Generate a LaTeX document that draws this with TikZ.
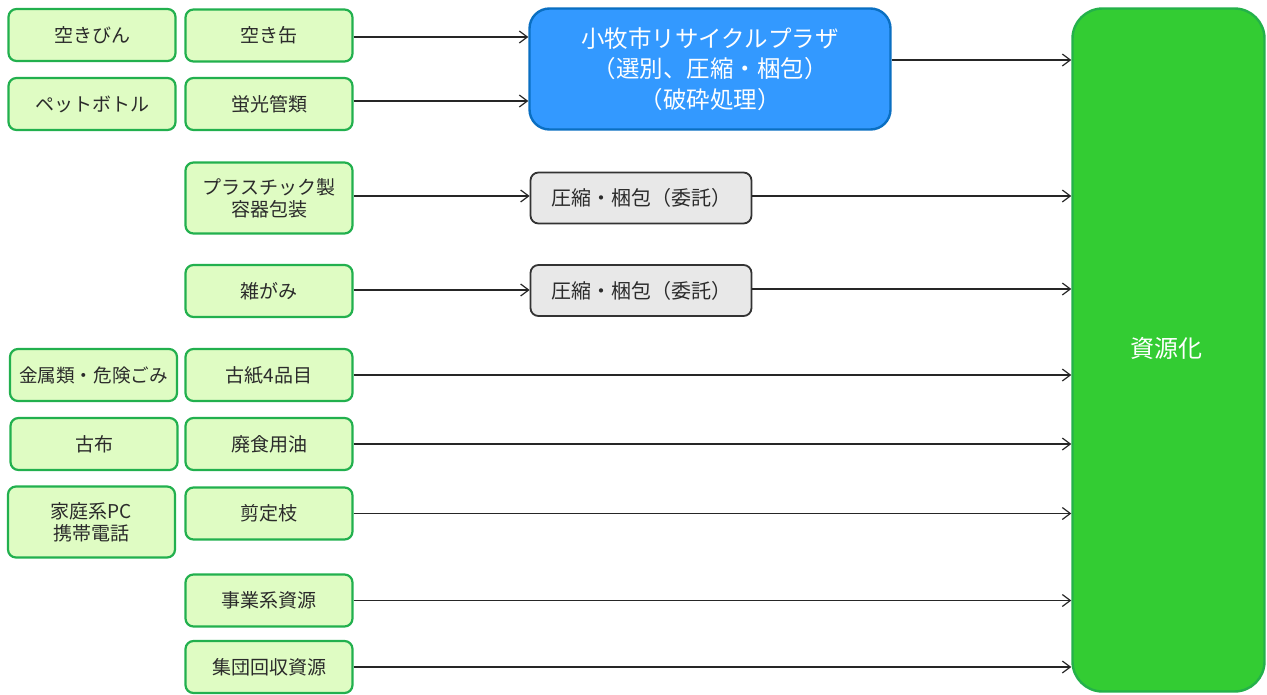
\documentclass[tikz,border=0pt]{standalone}
\usepackage{fontspec}
\setmainfont{Noto Sans CJK JP}
\usetikzlibrary{arrows.meta,calc}
\definecolor{gfill}{HTML}{DFFCC3}
\definecolor{gline}{HTML}{22B04E}
\definecolor{bfill}{HTML}{3399FF}
\definecolor{bline}{HTML}{0A6FC2}
\definecolor{pfill}{HTML}{E8E8E8}
\definecolor{pline}{HTML}{333333}
\definecolor{rfill}{HTML}{33CC33}
\definecolor{rline}{HTML}{24B14A}
\definecolor{tcol}{HTML}{2B2B2B}
\tikzset{
  gbox/.style={draw=gline, fill=gfill, line width=2.2pt, rounded corners=8pt,
    minimum width=167pt, minimum height=52pt, inner sep=0pt, align=center,
    text=tcol, font=\fontsize{19}{22}\selectfont},
  pbox/.style={draw=pline, fill=pfill, line width=1.8pt, rounded corners=8pt,
    minimum width=221pt, minimum height=51pt, inner sep=0pt,
    text=tcol, font=\fontsize{20}{23}\selectfont},
  arr/.style={draw=black!85, line width=1.2pt, -{Straight Barb[length=8pt,width=12pt]}}
}
\begin{document}
\begin{tikzpicture}[x=1pt,y=-1pt]
\useasboundingbox (0,0) rectangle (1267,694);
% left column
\node[gbox] (a1) at (92,35) {空きびん};
\node[gbox] (a2) at (92,104) {ペットボトル};
\node[gbox, font=\fontsize{18.6}{22}\selectfont] (a3) at (93.5,375) {金属類・危険ごみ};
\node[gbox] (a4) at (94,444) {古布};
\node[gbox, minimum height=71pt] (a5) at (91.5,522) {家庭系PC\\携帯電話};
% second column
\node[gbox] (b1) at (269,35.5) {空き缶};
\node[gbox] (b2) at (269,104) {蛍光管類};
\node[gbox, minimum height=71pt] (b3) at (269,198) {プラスチック製\\容器包装};
\node[gbox] (b4) at (269,291) {雑がみ};
\node[gbox] (b5) at (269,375) {古紙4品目};
\node[gbox] (b6) at (269,444) {廃食用油};
\node[gbox] (b7) at (269,513.5) {剪定枝};
\node[gbox] (b8) at (269,600.5) {事業系資源};
\node[gbox] (b9) at (269,667) {集団回収資源};
% processing
\node[draw=bline, fill=bfill, line width=2.4pt, rounded corners=20pt,
  minimum width=361pt, minimum height=121pt, inner sep=0pt, align=center,
  text=white, font=\fontsize{23.5}{30.5}\selectfont] (P) at (710,69)
  {小牧市リサイクルプラザ\\（選別、圧縮・梱包）\\（破砕処理）};
\node[pbox] (g1) at (641,198) {圧縮・梱包（委託）};
\node[pbox] (g2) at (641,290.5) {圧縮・梱包（委託）};
% resource
\node[draw=rline, fill=rfill, line width=2.4pt, rounded corners=30pt,
  minimum width=192pt, minimum height=683pt, inner sep=0pt] (R) at (1168.5,350) {};
\node[text=white, font=\fontsize{24}{28}\selectfont] (Rt) at (1166,348) {資源化};
% connectors
\draw[arr] (b1.east |- 0,37) -- (P.west |- 0,37);
\draw[arr] (b2.east |- 0,101) -- (P.west |- 0,101);
\draw[arr] (P.east |- 0,60) -- (R.west |- 0,60);
\draw[arr] (b3.east |- 0,196) -- (g1.west |- 0,196);
\draw[arr] (g1.east |- 0,196) -- (R.west |- 0,196);
\draw[arr] (b4.east |- 0,290) -- (g2.west |- 0,290);
\draw[arr] (g2.east |- 0,289) -- (R.west |- 0,289);
\draw[arr] (b5.east) -- (b5.east -| R.west);
\draw[arr] (b6.east) -- (b6.east -| R.west);
\draw[arr] (b7.east) -- (b7.east -| R.west);
\draw[arr] (b8.east) -- (b8.east -| R.west);
\draw[arr] (b9.east) -- (b9.east -| R.west);
\end{tikzpicture}
\end{document}
